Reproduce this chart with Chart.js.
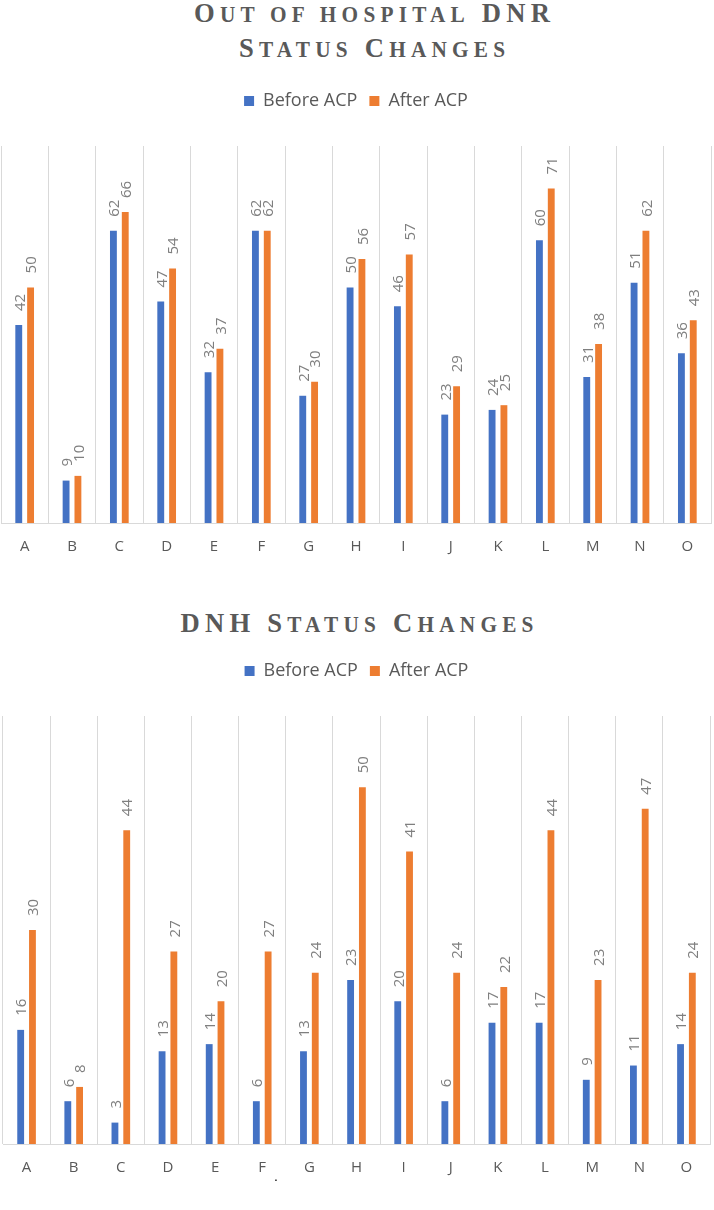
<!DOCTYPE html>
<html>
<head>
<meta charset="utf-8">
<script src="https://cdn.jsdelivr.net/npm/chart.js@4.4.1/dist/chart.umd.min.js"></script>
<style>
  html, body { margin:0; padding:0; background:#ffffff; }
  body { width:714px; height:1210px; position:relative; overflow:hidden; }
  .title { position:absolute; width:714px; box-sizing:border-box; padding-left:5.5px; text-align:center; color:#595959;
           font-family:"Liberation Serif","DejaVu Serif",serif; font-weight:bold;
           font-size:28px; line-height:33px; letter-spacing:5.5px; white-space:nowrap;
           transform:scaleX(0.95); transform-origin:50% 50%; }
  .title .sc { font-size:0.8em; text-transform:uppercase; }
  .wrap { position:absolute; left:0; width:714px; }
  .dot { position:absolute; left:274px; top:1168px; font-family:"Liberation Sans",sans-serif; font-size:14px; color:#000; }
</style>
</head>
<body>
<div class="title" style="top:-4px;left:15px">O<span class="sc">ut of hospital</span> DNR<br>S<span class="sc">tatus</span> C<span class="sc">hanges</span></div>
<div class="wrap" style="top:80px;height:483px"><canvas id="c1"></canvas></div>
<div class="title" style="top:606px;left:0">DNH S<span class="sc">tatus</span> C<span class="sc">hanges</span></div>
<div class="wrap" style="top:650px;height:534px"><canvas id="c2"></canvas></div>
<div class="dot">.</div>
<script>
const categories = ['A','B','C','D','E','F','G','H','I','J','K','L','M','N','O'];
const seriesLabels = ['Before ACP','After ACP'];
const dnrBefore = [42,9,62,47,32,62,27,50,46,23,24,60,31,51,36];
const dnrAfter  = [50,10,66,54,37,62,30,56,57,29,25,71,38,62,43];
const dnhBefore = [16,6,3,13,14,6,13,23,20,6,17,17,9,11,14];
const dnhAfter  = [30,8,44,27,20,27,24,50,41,24,22,44,23,47,24];
const dnrMax = 80;
const dnhMax = 60;

const BLUE = '#4472C4', ORANGE = '#ED7D31';
const FONT = '"Open Sans", "Noto Sans", sans-serif';

const legendSpace = {
  id: 'legendSpace',
  beforeInit(chart) {
    const lg = chart.legend;
    if (!lg) return;
    const fit = lg.fit;
    lg.fit = function () { fit.call(this); this.height = 66; };
  }
};

const barLabels = {
  id: 'barLabels',
  afterDatasetsDraw(chart) {
    const ctx = chart.ctx;
    ctx.save();
    ctx.font = '15px ' + FONT;
    ctx.fillStyle = '#7f7f7f';
    ctx.textAlign = 'left';
    ctx.textBaseline = 'middle';
    chart.data.datasets.forEach((ds, i) => {
      const meta = chart.getDatasetMeta(i);
      meta.data.forEach((bar, j) => {
        ctx.save();
        ctx.translate(bar.x + 1.5, bar.y - 14);
        ctx.rotate(-Math.PI / 2);
        ctx.fillText(String(ds.data[j]), 0, 0);
        ctx.restore();
      });
    });
    ctx.restore();
  }
};

function makeChart(id, before, after, max, pad) {
  return new Chart(document.getElementById(id), {
    type: 'bar',
    data: {
      labels: categories,
      datasets: [
        { label: seriesLabels[0], data: before, backgroundColor: BLUE, borderWidth: 0,
          categoryPercentage: 0.5, barPercentage: 0.58 },
        { label: seriesLabels[1], data: after, backgroundColor: ORANGE, borderWidth: 0,
          categoryPercentage: 0.5, barPercentage: 0.58 }
      ]
    },
    options: {
      responsive: true,
      maintainAspectRatio: false,
      animation: false,
      devicePixelRatio: 1,
      layout: { padding: pad },
      plugins: {
        title: { display: false },
        tooltip: { enabled: false },
        legend: {
          display: true,
          position: 'top',
          labels: {
            boxWidth: 10, boxHeight: 10, padding: 12,
            color: '#595959',
            font: { family: FONT, size: 18 }
          }
        }
      },
      scales: {
        x: {
          afterFit(scale) { scale.height = 40; },
          grid: { display: true, offset: true, color: '#d9d9d9', lineWidth: 1, drawTicks: false },
          border: { display: true, color: '#d9d9d9' },
          ticks: { color: '#595959', padding: 15, font: { family: FONT, size: 15 } }
        },
        y: { display: false, min: 0, max: max }
      }
    },
    plugins: [legendSpace, barLabels]
  });
}

makeChart('c1', dnrBefore, dnrAfter, dnrMax, { left: 1, right: 3, top: 0, bottom: 0 });
makeChart('c2', dnhBefore, dnhAfter, dnhMax, { left: 3, right: 4, top: 0, bottom: 0 });
</script>
</body>
</html>
